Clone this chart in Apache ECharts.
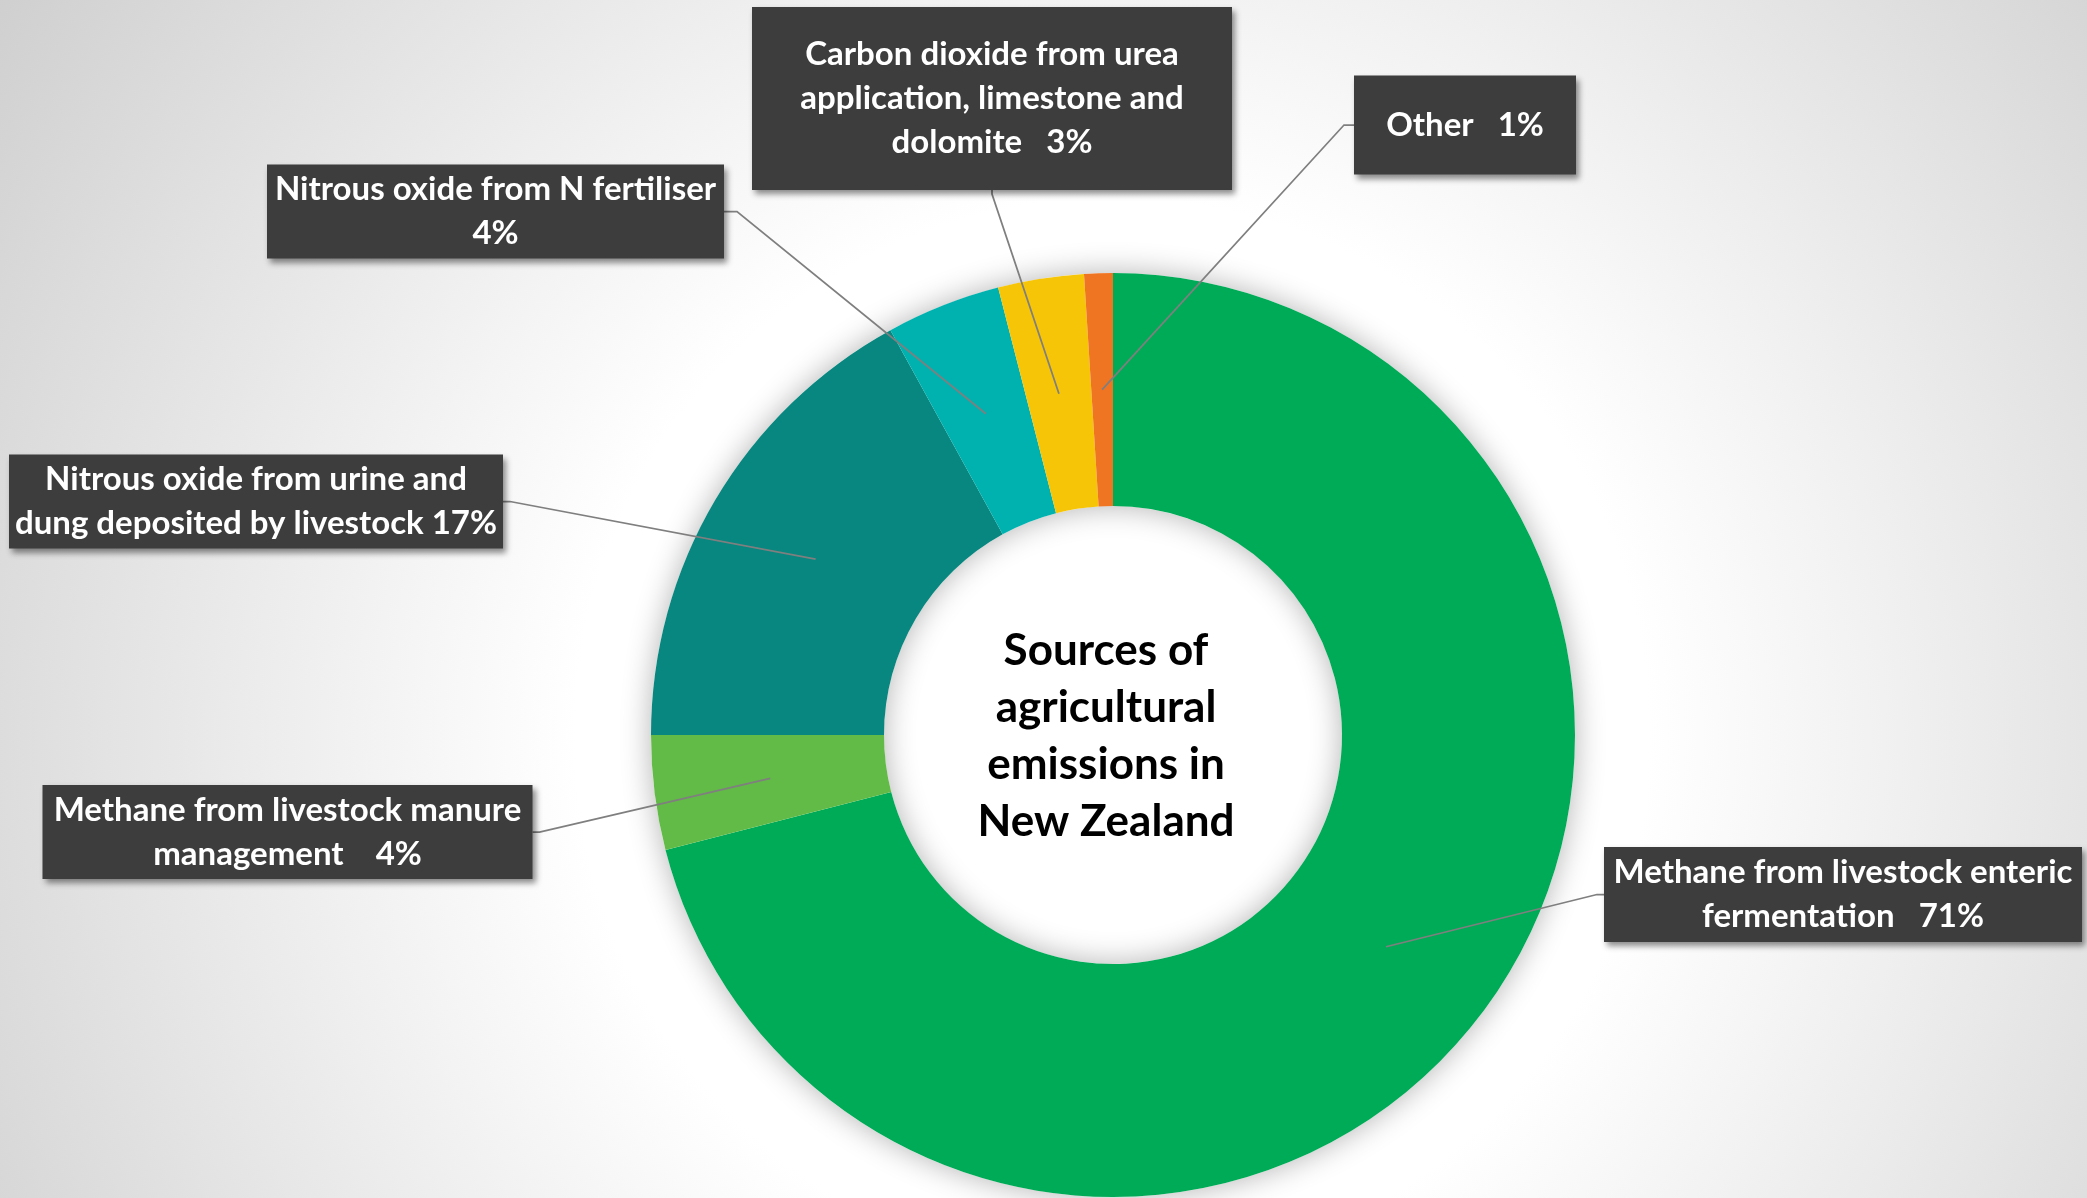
<!DOCTYPE html>
<html><head><meta charset="utf-8">
<script src="https://cdn.jsdelivr.net/npm/echarts@6/dist/echarts.min.js"></script>
<style>html,body{margin:0;padding:0;background:#fff;}#c{width:2087px;height:1198px;}</style>
</head><body><div id="c"></div>
<script>
// ---- data ----
const categories = [
  'Methane from livestock enteric fermentation',
  'Methane from livestock manure management',
  'Nitrous oxide from urine and dung deposited by livestock',
  'Nitrous oxide from N fertiliser',
  'Carbon dioxide from urea application, limestone and dolomite',
  'Other'
];
const values = [71, 4, 17, 4, 3, 1];
const labelTexts = [
  'Methane from livestock enteric\nfermentation   {v}%',
  'Methane from livestock manure\nmanagement    {v}%',
  'Nitrous oxide from urine and\ndung deposited by livestock {v}%',
  'Nitrous oxide from N fertiliser\n{v}%',
  'Carbon dioxide from urea\napplication, limestone and\ndolomite   {v}%',
  'Other   {v}%'
];
const titleText = 'Sources of\nagricultural\nemissions in\nNew Zealand';

// ---- styling / layout ----
const colors = ['#00AB57', '#63BB47', '#07877F', '#00B2AF', '#F7C508', '#F07522'];
const CX = 1113, CY = 735, R0 = 229, R1 = 462;
const LH = 44;
const boxes = [
  {cx: 1843, cy: 894.5, w: 478, h: 95, side: 'left', elbow: 7},
  {cx: 287.5, cy: 832, w: 490, h: 94, side: 'right', elbow: 7},
  {cx: 256, cy: 501.5, w: 494, h: 94, side: 'right', elbow: 7},
  {cx: 495.5, cy: 211.5, w: 457, h: 94, side: 'right', elbow: 13},
  {cx: 992, cy: 98.5, w: 480, h: 183, side: 'bottom', elbow: 4},
  {cx: 1465, cy: 125, w: 222, h: 99, side: 'left', elbow: 10}
];

const total = values.reduce((a, b) => a + b, 0);
function startPoint(i) {
  let cum = 0;
  for (let k = 0; k < i; k++) cum += values[k];
  const mid = cum + values[i] / 2;
  const a = (90 - 360 * mid / total) * Math.PI / 180;
  const rm = (R0 + R1) / 2;
  return [CX + rm * Math.cos(a), CY - rm * Math.sin(a)];
}
function endPoints(b) {
  if (b.side === 'left') { const x = b.cx - b.w / 2; return [[x - b.elbow, b.cy], [x, b.cy]]; }
  if (b.side === 'right') { const x = b.cx + b.w / 2; return [[x + b.elbow, b.cy], [x, b.cy]]; }
  const y = b.cy + b.h / 2; return [[b.cx, y + b.elbow], [b.cx, y]];
}

const sliceData = categories.map((name, i) => ({
  name: name, value: values[i], itemStyle: {color: colors[i]}
}));
const labelData = categories.map((name, i) => {
  const n = labelTexts[i].split('\n').length;
  const b = boxes[i];
  const pad = (b.h - n * LH) / 2;
  return {
    name: name,
    value: values[i],
    itemStyle: {color: 'rgba(0,0,0,0)'},
    label: {width: b.w, padding: [pad + 6, 0, pad - 6, 0]}
  };
});

const common = {
  type: 'pie', center: [CX, CY], radius: [R0, R1],
  startAngle: 90, clockwise: true, avoidLabelOverlap: false,
  emphasis: {disabled: true}
};

const chart = echarts.init(document.getElementById('c'), null, {renderer: 'canvas'});
chart.setOption({
  animation: false,
  backgroundColor: {
    type: 'radial', x: 0.533, y: 0.614, r: 1.12,
    colorStops: [{offset: 0, color: '#ffffff'}, {offset: 0.4, color: '#ffffff'}, {offset: 1, color: '#cfcfcf'}]
  },
  title: {
    text: titleText,
    left: 1101, top: 731,
    textAlign: 'center', textVerticalAlign: 'middle',
    textStyle: {fontFamily: 'Lato', fontWeight: 'bold', fontSize: 44, lineHeight: 57, color: '#000'}
  },
  series: [
    Object.assign({}, common, {
      silent: true, z: 1,
      data: [{value: 1, itemStyle: {color: '#ffffff'}}],
      itemStyle: {shadowBlur: 30, shadowColor: 'rgba(0,0,0,0.3)'},
      label: {show: false}, labelLine: {show: false}
    }),
    Object.assign({}, common, {
      z: 2, silent: true,
      itemStyle: {borderWidth: 0},
      data: sliceData,
      label: {show: false}, labelLine: {show: false}
    }),
    Object.assign({}, common, {
      z: 3, silent: true,
      itemStyle: {borderWidth: 0},
      data: labelData,
      label: {
        show: true, position: 'outside',
        formatter: p => labelTexts[p.dataIndex].replace('{v}', values[p.dataIndex]),
        color: '#fff', fontFamily: 'Lato', fontWeight: 'bold', fontSize: 33, lineHeight: LH,
        align: 'center',
        backgroundColor: '#3d3d3d',
        shadowColor: 'rgba(0,0,0,0.45)', shadowBlur: 6, shadowOffsetX: 3, shadowOffsetY: 4
      },
      labelLine: {show: true, showAbove: true, length: 10, length2: 10, smooth: false, lineStyle: {color: '#7f7f7f', width: 1.75}},
      labelLayout: function (params) {
        const i = params.dataIndex;
        const b = boxes[i];
        const ep = endPoints(b);
        return {
          x: b.cx, y: b.cy, align: 'center', verticalAlign: 'middle',
          labelLinePoints: [startPoint(i), ep[0], ep[1]]
        };
      }
    })
  ]
});
</script>
</body></html>
